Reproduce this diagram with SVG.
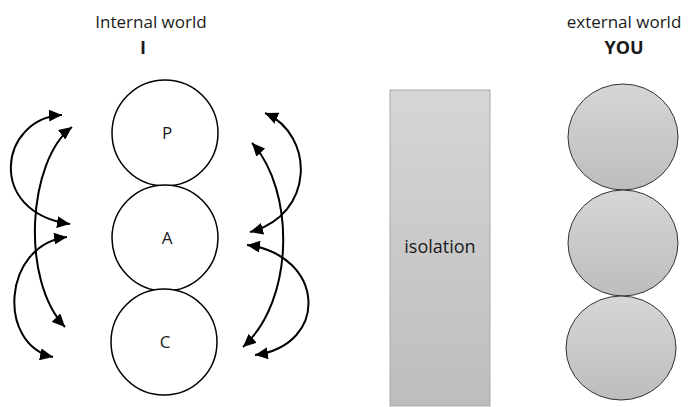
<svg xmlns="http://www.w3.org/2000/svg" width="693" height="407" viewBox="0 0 693 407">
<style>
text{font-family:"Open Sans","Liberation Sans",sans-serif;fill:#1a1a1a}
.lbl{font-size:17px}
.hd{font-size:17px}
.bold{font-size:18px;font-weight:bold}
.pc{fill:#fff;stroke:#000;stroke-width:1.5}
.yc{fill:url(#g);stroke:#333;stroke-width:1}
.arr{fill:none;stroke:#000;stroke-width:2;marker-start:url(#ah);marker-end:url(#ah)}
</style>
<defs>
<linearGradient id="g" x1="0" y1="0" x2="0" y2="1">
<stop offset="0" stop-color="#d6d6d6"/><stop offset="1" stop-color="#bdbdbd"/>
</linearGradient>
<marker id="ah" markerUnits="userSpaceOnUse" markerWidth="15" markerHeight="12" refX="13" refY="6" orient="auto-start-reverse">
<path d="M0,0 L13,6 L0,12 Z" fill="#000"/>
</marker>
</defs>
<g id="header-internal"><text class="hd" x="151" y="28" text-anchor="middle">Internal world</text><text class="bold" x="143" y="54" text-anchor="middle">I</text></g>
<g id="header-external"><text class="hd" x="624" y="28" text-anchor="middle">external world</text><text class="bold" x="624" y="54" text-anchor="middle">YOU</text></g>
<g id="node-P"><circle class="pc" cx="165" cy="133" r="53"/><text class="lbl" x="167" y="139" text-anchor="middle">P</text></g>
<g id="node-A"><circle class="pc" cx="165" cy="238" r="53"/><text class="lbl" x="167" y="244" text-anchor="middle">A</text></g>
<g id="node-C"><circle class="pc" cx="164" cy="342" r="53"/><text class="lbl" x="165" y="348" text-anchor="middle">C</text></g>
<g id="isolation"><rect x="390" y="90" width="100" height="316" fill="url(#g)" stroke="#aaa" stroke-width="1"/><text x="440" y="253" text-anchor="middle" style="font-size:18px">isolation</text></g>
<g id="you-1"><ellipse class="yc" cx="623" cy="137" rx="55" ry="53"/></g>
<g id="you-2"><ellipse class="yc" cx="623" cy="243" rx="55" ry="53"/></g>
<g id="you-3"><ellipse class="yc" cx="621" cy="348" rx="55" ry="52"/></g>
<g id="connectors">
<path class="arr" d="M62,115 C0,118 -15,212 70,224"/>
<path class="arr" d="M72,127 C28,160 20,280 65,327"/>
<path class="arr" d="M67,237 C2,245 -3,345 53,357"/>
<path class="arr" d="M265,113 C315,135 315,215 250,232"/>
<path class="arr" d="M252,143 C295,190 295,300 243,347"/>
<path class="arr" d="M247,245 C325,255 330,345 255,355"/>
</g>
</svg>
